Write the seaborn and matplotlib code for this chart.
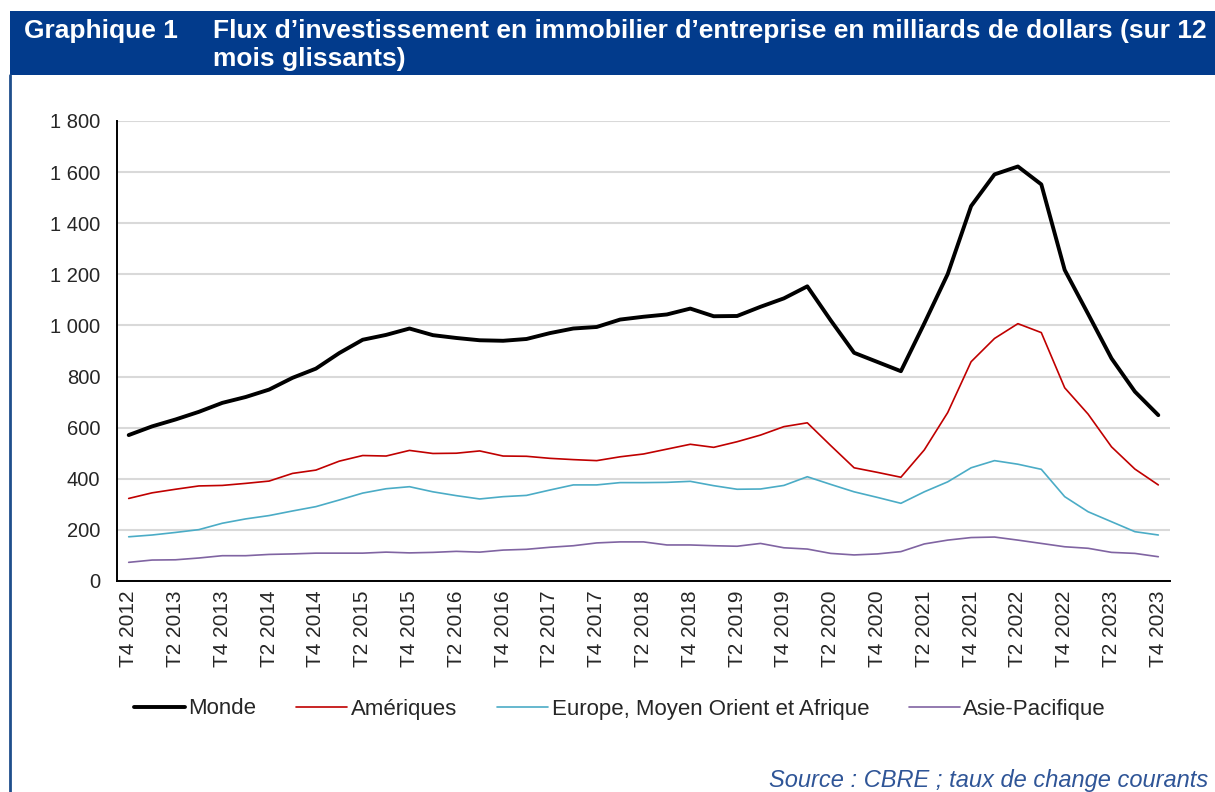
import matplotlib
matplotlib.use("Agg")
import matplotlib.pyplot as plt
import matplotlib.ticker as mticker
from matplotlib.lines import Line2D
from matplotlib.patches import Rectangle
import pandas as pd
import seaborn as sns

# quarterly data, rolling 12 months, billions of dollars
quarters = [f"T{q} {y}" for y in range(2012, 2024) for q in (1, 2, 3, 4)][3:]

monde = [571, 605, 632, 662, 697, 720, 749, 795, 831, 892,
         944, 963, 988, 962, 951, 942, 940, 947, 970, 988,
         994, 1023, 1034, 1043, 1066, 1036, 1037, 1073, 1106, 1153,
         1020, 893, 857, 821, 1008, 1201, 1467, 1591, 1622, 1552,
         1217, 1045, 871, 741, 649]
ameriques = [323, 345, 359, 372, 374, 382, 391, 421, 434, 469,
             491, 489, 511, 499, 500, 509, 489, 488, 480, 475,
             471, 486, 497, 516, 535, 523, 545, 571, 604, 619,
             530, 443, 425, 406, 513, 659, 858, 949, 1007, 972,
             756, 653, 525, 438, 376]
emea = [173, 180, 190, 201, 226, 243, 256, 274, 291, 317,
        344, 361, 369, 349, 334, 321, 330, 335, 356, 376,
        376, 385, 385, 386, 390, 373, 359, 360, 374, 408,
        378, 349, 327, 304, 349, 388, 443, 471, 457, 437,
        330, 271, 232, 193, 180]
asie = [73, 82, 83, 90, 99, 99, 104, 106, 109, 109,
        109, 113, 110, 112, 116, 113, 121, 124, 132, 138,
        149, 153, 153, 141, 141, 138, 136, 147, 130, 125,
        108, 102, 106, 115, 145, 160, 170, 172, 160, 147,
        134, 128, 112, 108, 95]

series_names = ["Monde", "Amériques", "Europe, Moyen Orient et Afrique", "Asie-Pacifique"]
series_values = [monde, ameriques, emea, asie]
colors = ["#000000", "#C00000", "#4BACC6", "#8064A2"]
widths = [2.8, 1.2, 1.2, 1.2]

df = pd.DataFrame({"x": range(len(quarters)), "quarter": quarters})
for name, vals in zip(series_names, series_values):
    df[name] = vals

sns.set_style("white")
plt.rcParams["font.family"] = ["Liberation Sans", "DejaVu Sans"]

fig = plt.figure(figsize=(12.15, 7.92), dpi=100)
ax = fig.add_axes([117 / 1215, 1 - 581 / 792, (1170 - 117) / 1215, (581 - 121) / 792])

for name, col, lw in zip(series_names, colors, widths):
    sns.lineplot(data=df, x="x", y=name, ax=ax, color=col, linewidth=lw, label=name)

ax.set_xlim(-0.5, len(quarters) - 0.5)
ax.set_ylim(0, 1800)
ax.yaxis.set_major_locator(mticker.MultipleLocator(200))
ax.yaxis.set_major_formatter(mticker.FuncFormatter(lambda v, p: f"{int(v):,}".replace(",", " ")))
ax.grid(axis="y", color="#D9D9D9", linewidth=1.5)
ax.set_axisbelow(True)

ax.set_xticks(df["x"][::2])
ax.set_xticklabels(df["quarter"][::2], rotation=90)
ax.set_xticks([i - 0.5 for i in range(len(quarters) + 1)], minor=True)
ax.tick_params(axis="x", which="major", length=0, pad=7, labelsize=15)
ax.tick_params(axis="x", which="minor", length=6, width=1.3, direction="out", color="black")
ax.tick_params(axis="y", length=6, width=1.3, direction="out", color="black", labelsize=14.5, pad=6)
ax.set_xlabel("")
ax.set_ylabel("")

for s in ["top", "right"]:
    ax.spines[s].set_visible(False)
for s in ["left", "bottom"]:
    ax.spines[s].set_color("black")
    ax.spines[s].set_linewidth(1.4)

ax.legend(loc="center", ncol=4, frameon=False, fontsize=16,
          handlelength=2.3, handletextpad=0.15, columnspacing=1.8)
leg = ax.get_legend()
leg.set_bbox_to_anchor((620 / 1215, 1 - 709 / 792), transform=fig.transFigure)

# banner and frame
fig.add_artist(Rectangle((10 / 1215, 1 - 75 / 792), 1 - 10 / 1215, 64 / 792,
                         transform=fig.transFigure, facecolor="#023B8C", edgecolor="none"))
fig.add_artist(Line2D([10 / 1215, 10 / 1215], [0, 1 - 75 / 792], transform=fig.transFigure,
                      color="#1F4E8C", linewidth=2))
fig.text(24 / 1215, 1 - 31 / 792, "Graphique 1", color="white", fontsize=19,
         fontweight="bold", va="center", ha="left")
fig.text(213 / 1215, 1 - 45 / 792,
         "Flux d’investissement en immobilier d’entreprise en milliards de dollars (sur 12\nmois glissants)",
         color="white", fontsize=19, fontweight="bold", va="center", ha="left", linespacing=1.2)
fig.text(1208 / 1215, 1 - 780 / 792, "Source : CBRE ; taux de change courants", color="#2F5597",
         fontsize=17, style="italic", ha="right", va="center")

fig.savefig("out.png", dpi=100)
